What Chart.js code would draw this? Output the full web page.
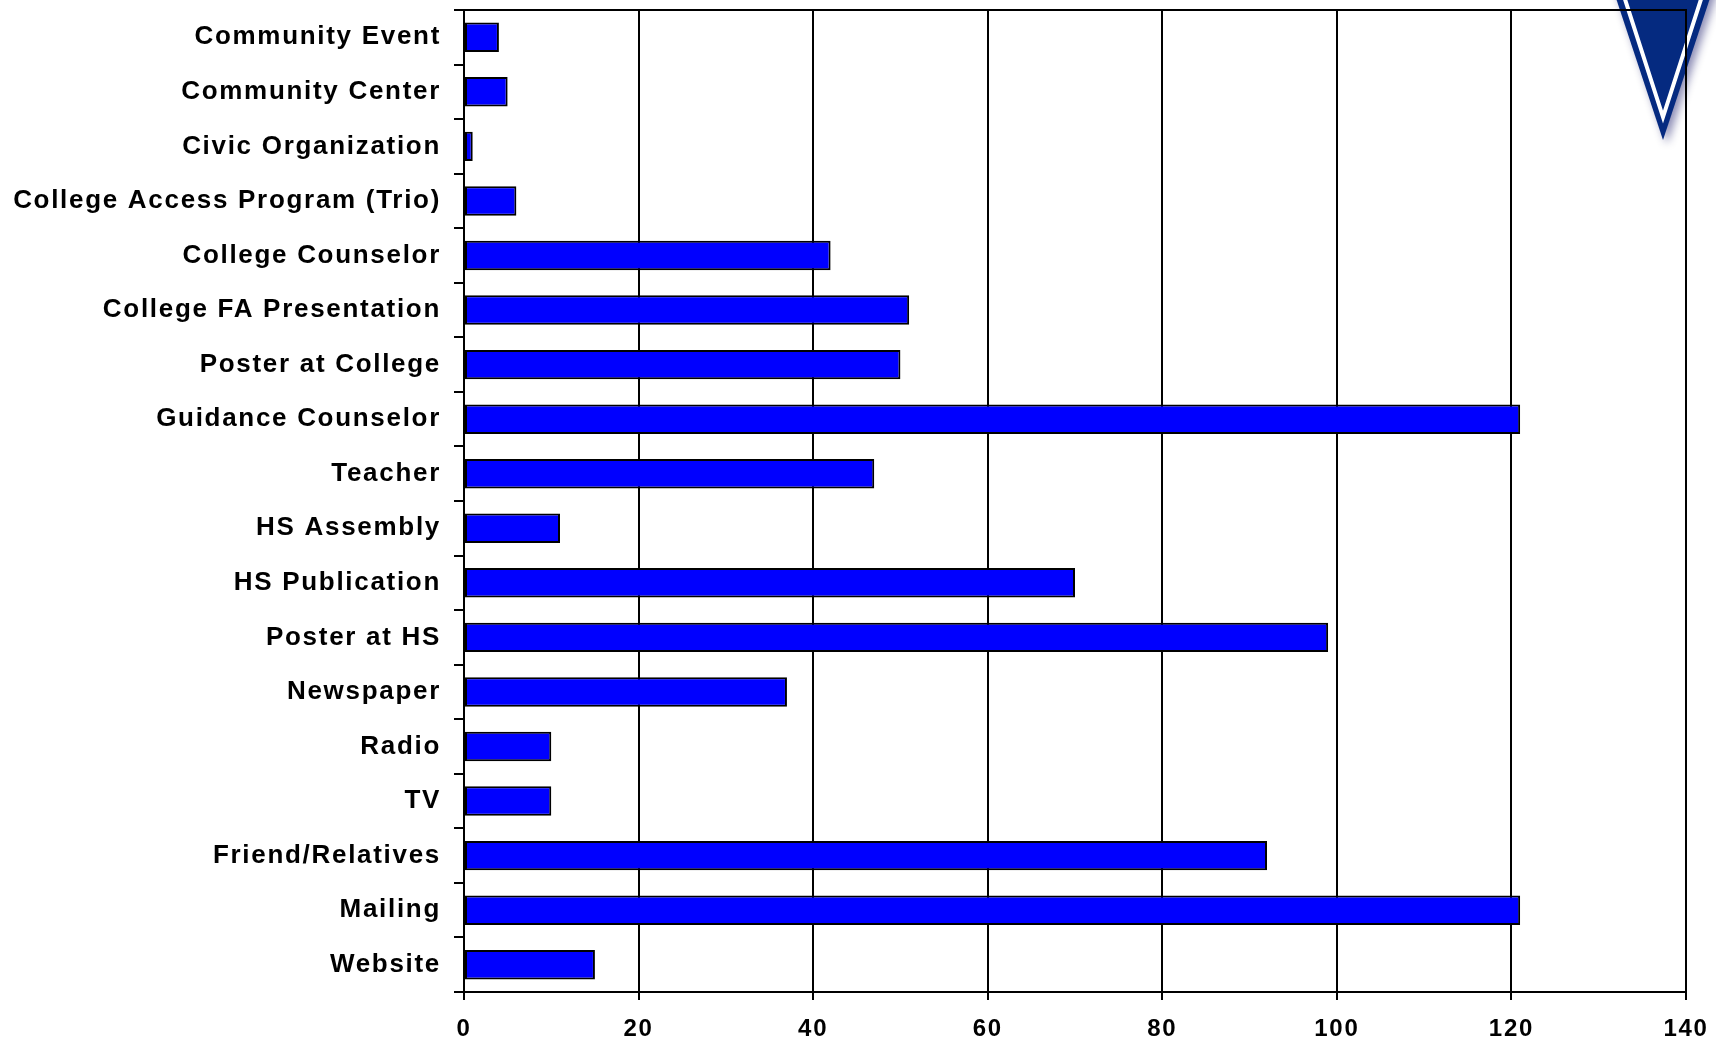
<!doctype html>
<html>

<head>
    <title>Sources</title>
    <script src="https://cdn.jsdelivr.net/npm/chart.js"></script>
    <style>
        body { margin: 0; background: #fff; }
    </style>
</head>

<body>
    <div style="width: 1716px; height: 1040px;">
        <canvas id="fontes"></canvas>
    </div>

    <script>
        // categorias de cima para baixo
        const categorias = [
            'Community Event', 'Community Center', 'Civic Organization',
            'College Access Program (Trio)', 'College Counselor', 'College FA Presentation',
            'Poster at College', 'Guidance Counselor', 'Teacher', 'HS Assembly',
            'HS Publication', 'Poster at HS', 'Newspaper', 'Radio', 'TV',
            'Friend/Relatives', 'Mailing', 'Website'
        ];
        const valores = [4, 5, 1, 6, 42, 51, 50, 121, 47, 11, 70, 99, 37, 10, 10, 92, 121, 15];
        const eixoX = [0, 20, 40, 60, 80, 100, 120, 140];

        // logo (triangulo) no canto superior direito
        const logo = {
            id: 'logo',
            beforeDraw(chart) {
                const ctx = chart.ctx;
                ctx.save();
                ctx.fillStyle = '#fff';
                ctx.fillRect(0, 0, chart.width, chart.height);
                ctx.shadowColor = 'rgba(0, 0, 90, 0.45)';
                ctx.shadowBlur = 8;
                ctx.shadowOffsetX = 4;
                ctx.shadowOffsetY = 4;
                ctx.fillStyle = '#052a80';
                ctx.beginPath();
                ctx.moveTo(1610, -20);
                ctx.lineTo(1716, -20);
                ctx.lineTo(1663, 140);
                ctx.closePath();
                ctx.fill();
                ctx.shadowColor = 'transparent';
                ctx.strokeStyle = '#fff';
                ctx.lineWidth = 4;
                ctx.beginPath();
                ctx.moveTo(1622, -10);
                ctx.lineTo(1663, 117);
                ctx.lineTo(1704, -10);
                ctx.stroke();
                ctx.restore();
                ctx.letterSpacing = '1.7px';
            }
        };

        new Chart(document.getElementById('fontes').getContext('2d'), {
            type: 'bar',
            data: {
                labels: categorias,
                datasets: [{
                    data: valores,
                    backgroundColor: '#0000ff',
                    borderColor: '#000',
                    borderWidth: 2,
                    borderSkipped: false,
                    barPercentage: 0.54,
                    categoryPercentage: 1
                }]
            },
            options: {
                indexAxis: 'y',
                responsive: true,
                maintainAspectRatio: false,
                animation: false,
                devicePixelRatio: 1,
                layout: { padding: { top: 10, right: 30, bottom: 0, left: 0 } },
                plugins: {
                    legend: { display: false },
                    tooltip: { enabled: false }
                },
                scales: {
                    x: {
                        min: 0,
                        max: 140,
                        afterBuildTicks: (s) => { s.ticks = eixoX.map(v => ({ value: v })); },
                        afterFit: (s) => { s.height = 48; s.paddingLeft = 0; s.paddingRight = 0; },
                        grid: { color: '#000', lineWidth: 2, tickLength: 8 },
                        border: { color: '#000', width: 2 },
                        ticks: {
                            color: '#000',
                            padding: 15,
                            maxRotation: 0,
                            font: { family: 'Liberation Sans', size: 24, weight: 'bold' }
                        }
                    },
                    x2: {
                        position: 'top',
                        min: 0,
                        max: 140,
                        afterFit: (s) => { s.height = 0; s.paddingLeft = 0; s.paddingRight = 0; },
                        grid: { display: false },
                        ticks: { display: false },
                        border: { color: '#000', width: 2 }
                    },
                    y: {
                        afterFit: (s) => { s.width = 464; s.paddingTop = 0; s.paddingBottom = 0; },
                        grid: { drawOnChartArea: false, color: '#000', lineWidth: 2, tickLength: 10 },
                        border: { color: '#000', width: 2 },
                        ticks: {
                            color: '#000',
                            padding: 13,
                            autoSkip: false,
                            font: { family: 'Liberation Sans', size: 26, weight: 'bold' }
                        }
                    }
                }
            },
            plugins: [logo]
        });
    </script>
</body>
</html>
